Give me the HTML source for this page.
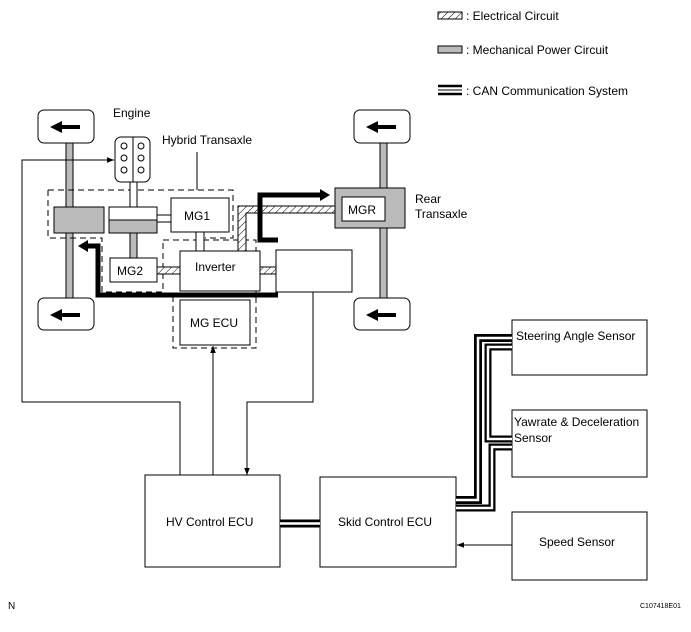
<!DOCTYPE html>
<html><head><meta charset="utf-8"><style>
html,body{margin:0;padding:0;background:#fff}
svg{display:block;font-family:"Liberation Sans",Arial,sans-serif}
</style></head><body>
<svg width="691" height="632" viewBox="0 0 691 632" xmlns="http://www.w3.org/2000/svg">
<defs>
<pattern id="h" width="5" height="5" patternUnits="userSpaceOnUse" patternTransform="rotate(45)">
<rect width="5" height="5" fill="#fff"/><line x1="0" y1="0" x2="0" y2="5" stroke="#000" stroke-width="1"/></pattern>
<marker id="a" viewBox="0 0 10 10" refX="10" refY="5" markerWidth="7" markerHeight="7" orient="auto" markerUnits="userSpaceOnUse"><path d="M0,1 L10,5 L0,9z" fill="#000"/></marker>
<marker id="ab" viewBox="0 0 10 10" refX="9" refY="5" markerWidth="4" markerHeight="4" orient="auto"><path d="M0,0 L10,5 L0,10z" fill="#000"/></marker>
</defs>
<g stroke="#000" stroke-width="1" fill="none">
<!-- legend -->
<rect x="438" y="12" width="24" height="7" fill="url(#h)"/>
<rect x="438" y="46" width="24" height="7" fill="#bbb"/>
<line x1="438" y1="86" x2="462" y2="86" stroke-width="2.5"/>
<line x1="438" y1="90" x2="462" y2="90" stroke-width="1"/>
<line x1="438" y1="94" x2="462" y2="94" stroke-width="2.5"/>
<!-- axles -->
<rect x="66" y="143" width="7" height="155" fill="#bbb"/>
<rect x="380" y="143" width="7" height="155" fill="#bbb"/>
<!-- wheels -->
<rect x="38" y="110" width="56" height="33" rx="6" fill="#fff"/>
<rect x="38" y="298" width="56" height="32" rx="6" fill="#fff"/>
<rect x="354" y="110" width="56" height="33" rx="6" fill="#fff"/>
<rect x="354" y="298" width="56" height="32" rx="6" fill="#fff"/>
</g>
<g fill="#000">
<path d="M50,127 l12,-6 v4 h18 v4 h-18 v4z"/>
<path d="M50,315 l12,-6 v4 h18 v4 h-18 v4z"/>
<path d="M366,127 l12,-6 v4 h18 v4 h-18 v4z"/>
<path d="M366,315 l12,-6 v4 h18 v4 h-18 v4z"/>
</g>
<g stroke="#000" stroke-width="1" fill="none">
<!-- dashed regions -->
<path d="M48,190 H233 V238 H205 M48,190 V238 H102 V292 H163 V240" stroke-dasharray="6,4"/>
<path d="M163,240 H256 V348 H173 V292" stroke-dasharray="6,4"/>
<!-- engine -->
<rect x="130" y="182" width="7" height="25" fill="#fff"/>
<rect x="115" y="137" width="35" height="45" rx="6" fill="#fff"/>
<line x1="133" y1="137" x2="133" y2="182"/>
<circle cx="124" cy="146" r="3"/><circle cx="141" cy="146" r="3"/>
<circle cx="124" cy="158" r="3"/><circle cx="141" cy="158" r="3"/>
<circle cx="124" cy="170" r="3"/><circle cx="141" cy="170" r="3"/>
<!-- shafts -->
<rect x="130" y="233" width="7" height="25" fill="#bbb"/>
<rect x="157" y="215" width="14" height="7" fill="#fff"/>
<rect x="196" y="232" width="8" height="19" fill="#fff"/>
<!-- blocks -->
<rect x="54" y="207" width="50" height="26" fill="#bbb"/>
<rect x="109" y="207" width="48" height="13" fill="#fff"/>
<rect x="109" y="220" width="48" height="13" fill="#bbb"/>
<rect x="171" y="198" width="58" height="34" fill="#fff"/>
<rect x="110" y="258" width="47" height="24" fill="#fff"/>
<!-- electrical -->
<rect x="157" y="267" width="23" height="7" fill="url(#h)"/>
<rect x="260" y="267" width="16" height="7" fill="url(#h)"/>
<path d="M238,251 V206 H336 V213 H246 V251z" fill="url(#h)"/>
<rect x="180" y="251" width="80" height="40" fill="#fff"/>
<rect x="276" y="250" width="76" height="42" fill="#fff"/>
<rect x="180" y="300" width="70" height="45" fill="#fff"/>
<!-- MGR -->
<rect x="335" y="188" width="70" height="40" fill="#bbb"/>
<rect x="342" y="197" width="43" height="24" fill="#fff"/>
<!-- thick black arrows -->
<path d="M278,240 H260 V195 H322" stroke-width="5"/>
<path d="M278,295 H98 V246 H88" stroke-width="5"/>
<!-- control lines -->
<path d="M180,475 V402 H22 V160 H114" marker-end="url(#a)"/>
<path d="M213,475 V346" marker-end="url(#a)"/>
<path d="M313,292 V402 H247 V475" marker-end="url(#a)"/>
<path d="M512,545 H457" marker-end="url(#a)"/>
<line x1="197" y1="152" x2="197" y2="190"/>
<!-- ECU boxes -->
<rect x="145" y="475" width="135" height="92" fill="#fff"/>
<rect x="320" y="477" width="136" height="90" fill="#fff"/>
<rect x="512" y="320" width="135" height="55" fill="#fff"/>
<rect x="512" y="410" width="135" height="67" fill="#fff"/>
<rect x="512" y="512" width="135" height="68" fill="#fff"/>
<!-- CAN -->
<g stroke-linejoin="miter">
<path d="M280,523.5 H320" stroke-width="8"/>
<path d="M456,500 H478 V338 H512" stroke-width="8"/>
<path d="M512,347 H488 V439 H512" stroke-width="7"/>
<path d="M512,447 H492 V508 H456" stroke-width="7"/>
</g>
<g stroke="#fff" stroke-width="2.5">
<path d="M280,523.5 H320"/>
<path d="M456,500 H478 V338 H512"/>
<path d="M512,347 H488 V439 H512"/>
<path d="M512,447 H492 V508 H456"/>
</g>
</g>
<g fill="#000">
<path d="M330,195 l-10,-6 v12z"/>
<path d="M78,246 l10,-6 v12z"/>
</g>
<g font-size="12" fill="#000">
<text x="466" y="20">: Electrical Circuit</text>
<text x="466" y="54">: Mechanical Power Circuit</text>
<text x="466" y="95">: CAN Communication System</text>
<text x="113" y="117">Engine</text>
<text x="162" y="144">Hybrid Transaxle</text>
<text x="184" y="220">MG1</text>
<text x="117" y="275">MG2</text>
<text x="195" y="271">Inverter</text>
<text x="190" y="327">MG ECU</text>
<text x="348" y="214">MGR</text>
<text x="415" y="203">Rear</text>
<text x="415" y="218">Transaxle</text>
<text x="166" y="526">HV Control ECU</text>
<text x="338" y="526">Skid Control ECU</text>
<text x="516" y="340">Steering Angle Sensor</text>
<text x="514" y="426">Yawrate &amp; Deceleration</text>
<text x="514" y="442">Sensor</text>
<text x="539" y="546">Speed Sensor</text>
<text x="8" y="609" font-size="10">N</text>
<text x="640" y="608" font-size="7">C107418E01</text>
</g>
</svg>
</body></html>
